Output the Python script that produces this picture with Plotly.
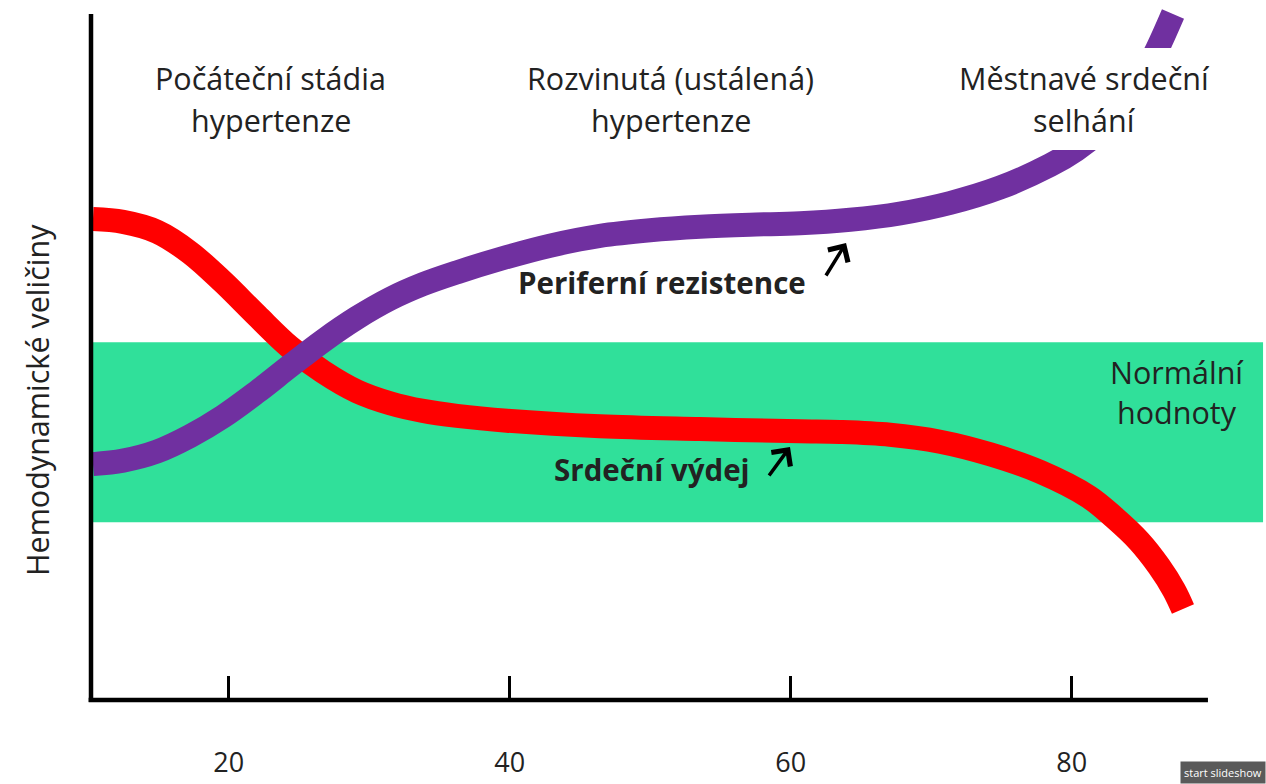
import plotly.graph_objects as go

# Age axis (years) and relative hemodynamic level (arbitrary units, 0-100)
age_cardiac = [10.34, 12.48, 14.90, 17.25, 19.60, 22.01, 24.36, 26.71, 29.13, 31.48,
               33.83, 36.25, 39.81, 46.43, 53.55, 60.66, 63.51, 67.07, 70.63, 74.19,
               77.74, 81.23, 83.01, 84.79, 86.21, 87.28, 87.92]
cardiac_output = [68.7, 68.3, 66.9, 63.9, 59.7, 54.9, 50.4, 46.9, 44.1, 42.4,
                  41.3, 40.6, 39.9, 39.1, 38.7, 38.4, 38.3, 37.9, 36.9, 35.1,
                  32.6, 29.0, 26.1, 22.7, 19.1, 15.7, 13.0]

age_resistance = [10.34, 12.48, 14.90, 17.25, 19.60, 22.01, 24.36, 26.71, 29.13, 31.48,
                  33.83, 36.25, 39.31, 42.87, 46.43, 49.99, 53.55, 57.10, 60.66, 64.22,
                  67.78, 71.34, 74.90, 78.46, 80.31, 82.01, 83.44, 84.86, 86.07, 87.21]
peripheral_resistance = [33.7, 34.2, 35.5, 37.7, 40.5, 44.0, 47.7, 51.3, 54.6, 57.3,
                         59.4, 61.1, 63.0, 64.9, 66.3, 67.1, 67.6, 67.9, 68.1, 68.6,
                         69.5, 71.0, 73.2, 76.4, 78.6, 81.3, 84.3, 88.3, 92.9, 98.0]

normal_range = [25.4, 51.1]
tick_values = [20, 40, 60, 80]
tick_labels = ["20", "40", "60", "80"]

x_range = [10.2, 93.83]
y_range = [0, 100]

FONT = "Open Sans"
TEXT = "#222222"
SIZE = 30.5
BOLD_SIZE = 29.5

fig = go.Figure()

fig.add_trace(go.Scatter(
    x=age_cardiac, y=cardiac_output, mode="lines",
    line=dict(color="#FF0000", width=24, shape="spline", smoothing=1),
    hoverinfo="skip", showlegend=False,
))
fig.add_trace(go.Scatter(
    x=age_resistance, y=peripheral_resistance, mode="lines",
    line=dict(color="#7030A0", width=24, shape="spline", smoothing=1),
    hoverinfo="skip", showlegend=False,
))

shapes = [
    # band of normal values
    dict(type="rect", xref="x", yref="y", x0=x_range[0], x1=93.62,
         y0=normal_range[0], y1=normal_range[1],
         fillcolor="#30E09A", line=dict(width=0), layer="below"),
    # white box behind the heart-failure label
    dict(type="rect", xref="x", yref="y", x0=77.0, x1=89.5, y0=78.57, y1=93.14,
         fillcolor="white", line=dict(width=0), layer="above"),
    # axis lines
    dict(type="line", xref="paper", yref="paper", x0=0, x1=0, y0=-0.003, y1=0.98,
         line=dict(color="black", width=4.5), layer="above"),
    dict(type="line", xref="paper", yref="paper", x0=-0.002, x1=0.9506, y0=0, y1=0,
         line=dict(color="black", width=4.5), layer="above"),
]

def label(text, x, y, size=SIZE, bold=False, **kw):
    return dict(text=f"<b>{text}</b>" if bold else text, x=x, y=y, xref="x", yref="y",
                showarrow=False, xanchor="center", yanchor="middle",
                font=dict(family=FONT, size=size, color=TEXT), **kw)

annotations = [
    label("Počáteční stádia", 23.01, 88.86),
    label("hypertenze", 23.01, 82.86),
    label("Rozvinutá (ustálená)", 51.48, 88.86),
    label("hypertenze", 51.48, 82.86),
    label("Městnavé srdeční", 80.88, 88.86),
    label("selhání", 80.88, 82.86),
    label("Normální", 87.5, 46.86),
    label("hodnoty", 87.5, 41.14),
    label("Periferní rezistence", 50.84, 59.71, size=BOLD_SIZE, bold=True),
    label("Srdeční výdej", 50.13, 32.86, size=BOLD_SIZE, bold=True),
    # arrows showing the rising trend
    dict(x=63.94, y=65.29, xref="x", yref="y", ax=-21, ay=34, text="",
         showarrow=True, arrowhead=4, arrowsize=1.3, arrowwidth=3.5, arrowcolor="black"),
    dict(x=59.95, y=36.14, xref="x", yref="y", ax=-22, ay=30, text="",
         showarrow=True, arrowhead=4, arrowsize=1.3, arrowwidth=3.5, arrowcolor="black"),
    # y-axis title
    dict(text="Hemodynamické veličiny", x=0, y=42.86, xref="paper", yref="y",
         xshift=-54, textangle=-90, showarrow=False, xanchor="center", yanchor="middle",
         font=dict(family=FONT, size=SIZE, color=TEXT)),
    dict(text="start slideshow", x=1, y=0, xref="paper", yref="paper",
         yshift=-84, showarrow=False, xanchor="right", yanchor="bottom",
         bgcolor="#5a5a5a", borderpad=3,
         font=dict(family=FONT, size=11, color="white")),
]

fig.update_layout(
    width=1266, height=784,
    margin=dict(l=91, r=0, t=0, b=84),
    paper_bgcolor="white", plot_bgcolor="white",
    shapes=shapes, annotations=annotations,
    xaxis=dict(range=x_range, showgrid=False, zeroline=False, showline=False,
               tickvals=tick_values, ticktext=tick_labels,
               ticks="inside", ticklen=24, tickwidth=2.5, tickcolor="black",
               ticklabelstandoff=44,
               tickfont=dict(family=FONT, size=27, color=TEXT)),
    yaxis=dict(range=y_range, showgrid=False, zeroline=False, showline=False,
               showticklabels=False, ticks=""),
)

fig.write_html("out.html")
